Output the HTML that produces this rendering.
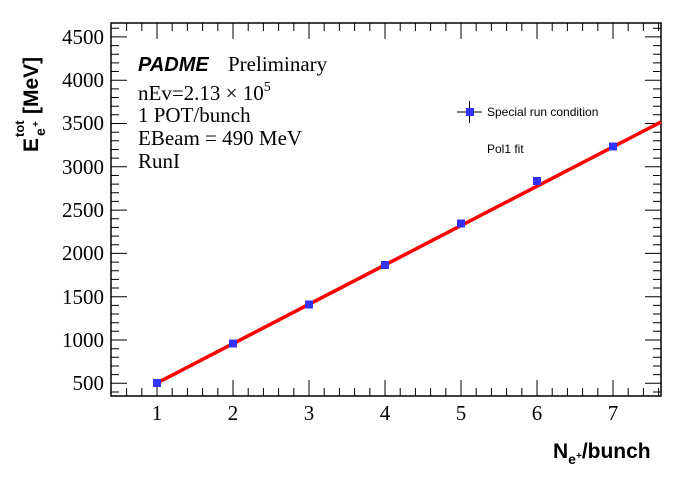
<!DOCTYPE html>
<html><head><style>body{margin:0;background:#fff}</style></head><body>
<svg width="696" height="472" xmlns="http://www.w3.org/2000/svg">
<rect width="696" height="472" fill="#fff"/>
<path stroke="#000" stroke-width="1" fill="none" d="
M126.6 396v-8M141.8 396v-8M157 396v-16M172.2 396v-8M187.4 396v-8M202.6 396v-8M217.8 396v-8M233 396v-16M248.2 396v-8M263.4 396v-8M278.6 396v-8M293.8 396v-8M309 396v-16M324.2 396v-8M339.4 396v-8M354.6 396v-8M369.8 396v-8M385 396v-16M400.2 396v-8M415.4 396v-8M430.6 396v-8M445.8 396v-8M461 396v-16M476.2 396v-8M491.4 396v-8M506.6 396v-8M521.8 396v-8M537 396v-16M552.2 396v-8M567.4 396v-8M582.6 396v-8M597.8 396v-8M613 396v-16M628.2 396v-8M643.4 396v-8M658.6 396v-8
M126.6 23v8M141.8 23v8M157 23v16M172.2 23v8M187.4 23v8M202.6 23v8M217.8 23v8M233 23v16M248.2 23v8M263.4 23v8M278.6 23v8M293.8 23v8M309 23v16M324.2 23v8M339.4 23v8M354.6 23v8M369.8 23v8M385 23v16M400.2 23v8M415.4 23v8M430.6 23v8M445.8 23v8M461 23v16M476.2 23v8M491.4 23v8M506.6 23v8M521.8 23v8M537 23v16M552.2 23v8M567.4 23v8M582.6 23v8M597.8 23v8M613 23v16M628.2 23v8M643.4 23v8M658.6 23v8
M111 392h8M111 383.3h16M111 374.6h8M111 366h8M111 357.3h8M111 348.7h8M111 340h16M111 331.3h8M111 322.7h8M111 314h8M111 305.4h8M111 296.7h16M111 288h8M111 279.4h8M111 270.7h8M111 262.1h8M111 253.4h16M111 244.7h8M111 236.1h8M111 227.4h8M111 218.8h8M111 210.1h16M111 201.4h8M111 192.8h8M111 184.1h8M111 175.5h8M111 166.8h16M111 158.1h8M111 149.5h8M111 140.8h8M111 132.2h8M111 123.5h16M111 114.8h8M111 106.2h8M111 97.5h8M111 88.9h8M111 80.2h16M111 71.5h8M111 62.9h8M111 54.2h8M111 45.6h8M111 36.9h16M111 28.2h8
M661 392h-8M661 383.3h-16M661 374.6h-8M661 366h-8M661 357.3h-8M661 348.7h-8M661 340h-16M661 331.3h-8M661 322.7h-8M661 314h-8M661 305.4h-8M661 296.7h-16M661 288h-8M661 279.4h-8M661 270.7h-8M661 262.1h-8M661 253.4h-16M661 244.7h-8M661 236.1h-8M661 227.4h-8M661 218.8h-8M661 210.1h-16M661 201.4h-8M661 192.8h-8M661 184.1h-8M661 175.5h-8M661 166.8h-16M661 158.1h-8M661 149.5h-8M661 140.8h-8M661 132.2h-8M661 123.5h-16M661 114.8h-8M661 106.2h-8M661 97.5h-8M661 88.9h-8M661 80.2h-16M661 71.5h-8M661 62.9h-8M661 54.2h-8M661 45.6h-8M661 36.9h-16M661 28.2h-8"/>
<rect x="111" y="23" width="550" height="373" fill="none" stroke="#000" stroke-width="1.5"/>
<g font-family="Liberation Serif, serif" font-size="21" fill="#000" text-anchor="end">
<text x="104" y="390">500</text><text x="104" y="347">1000</text><text x="104" y="304">1500</text><text x="104" y="260">2000</text><text x="104" y="217">2500</text><text x="104" y="174">3000</text><text x="104" y="130">3500</text><text x="104" y="87">4000</text><text x="104" y="44">4500</text>
</g>
<g font-family="Liberation Serif, serif" font-size="21" fill="#000" text-anchor="middle">
<text x="157" y="420">1</text><text x="233" y="420">2</text><text x="309" y="420">3</text><text x="385" y="420">4</text><text x="461" y="420">5</text><text x="537" y="420">6</text><text x="613" y="420">7</text>
</g>
<line x1="157" y1="383" x2="661" y2="122" stroke="#f00" stroke-width="3.5"/>
<g fill="#3333ff">
<rect x="153" y="379" width="8" height="8"/><rect x="229" y="339.5" width="8" height="8"/><rect x="305" y="300.5" width="8" height="8"/><rect x="381" y="261" width="8" height="8"/><rect x="457" y="219.5" width="8" height="8"/><rect x="533" y="177" width="8" height="8"/><rect x="609" y="142.5" width="8" height="8"/>
</g>
<line x1="457" y1="112" x2="482" y2="112" stroke="#000"/><line x1="469.5" y1="101" x2="469.5" y2="123" stroke="#000"/>
<rect x="466" y="108" width="8" height="8" fill="#3333ff"/>
<g font-family="Liberation Sans, sans-serif" font-size="12" fill="#000">
<text x="487" y="116">Special run condition</text><text x="487" y="153">Pol1 fit</text>
</g>
<g font-family="Liberation Serif, serif" font-size="21" fill="#000">
<text x="138" y="71" font-family="Liberation Sans, sans-serif" font-weight="bold" font-style="italic" font-size="20">PADME</text>
<text x="228" y="71">Preliminary</text>
<text x="138" y="100">nEv=2.13 × 10<tspan font-size="14" dy="-9">5</tspan></text>
<text x="138" y="122">1 POT/bunch</text>
<text x="138" y="145">EBeam = 490 MeV</text>
<text x="138" y="168">RunI</text>
</g>
<g font-family="Liberation Sans, sans-serif" font-weight="bold" fill="#000" transform="translate(38,152) rotate(-90)">
<text x="0" y="0" font-size="21">E</text>
<text x="15" y="-14" font-size="13">tot</text>
<text x="16" y="7" font-size="14">e</text>
<text x="25" y="1" font-size="10">+</text>
<text x="38" y="0" font-size="21">[MeV]</text>
</g>
<g font-family="Liberation Sans, sans-serif" font-weight="bold" fill="#000">
<text x="553" y="458" font-size="21">N<tspan font-size="14" dy="6">e</tspan><tspan font-size="10" dy="-5">+</tspan><tspan font-size="21" dy="-1">/bunch</tspan></text>
</g>
</svg>
</body></html>
